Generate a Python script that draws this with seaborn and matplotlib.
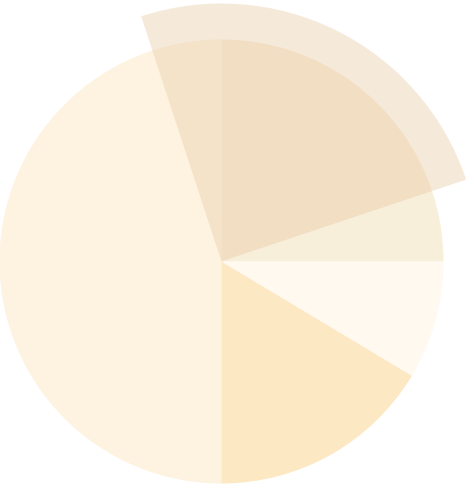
import matplotlib
matplotlib.use('Agg')
import matplotlib.pyplot as plt
import seaborn as sns

# base pie, counter-clockwise from 3 o'clock
shares = [5.1, 19.9, 50.0, 16.4, 8.6]
colors = ['#f7efda', '#f9ecd4', '#fdf3e0', '#fde8c4', '#fff9f0']

# highlighted slice drawn on top with a larger radius
highlight_share = 0.249
highlight_start = 18.5
highlight_color = '#ebcfad'

sns.set_theme(style='white')

W, H = 466, 484
R_PX = 222
CX, CY = 221.5, 261.5

fig = plt.figure(figsize=(W / 100, H / 100), dpi=100)
ax = fig.add_axes([0, 0, 1, 1])

ax.pie(shares, colors=colors, startangle=0, counterclock=True, radius=1.0,
       wedgeprops={'linewidth': 0})
ax.pie([highlight_share], normalize=False, colors=[highlight_color],
       startangle=highlight_start, counterclock=True, radius=258 / R_PX,
       wedgeprops={'linewidth': 0, 'alpha': 0.45})

ax.set_xlim(-CX / R_PX, (W - CX) / R_PX)
ax.set_ylim(-(H - CY) / R_PX, CY / R_PX)
ax.set_aspect('auto')
ax.axis('off')

fig.savefig('out.png', dpi=100, facecolor='white')
plt.close(fig)
